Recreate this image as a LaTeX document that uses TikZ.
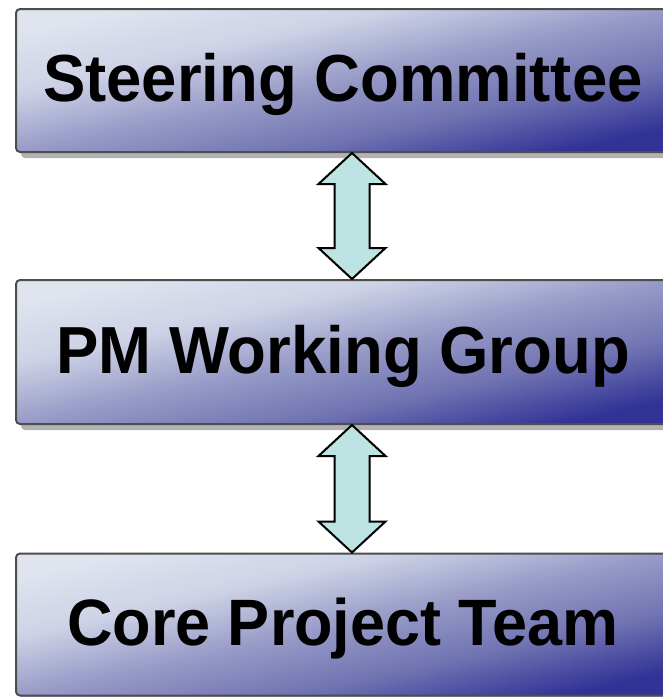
\documentclass[tikz,border=0pt]{standalone}
\usepackage{fontspec}
\usepackage{graphicx}
\setmainfont{Liberation Sans}
\usetikzlibrary{shadows,calc}
\definecolor{sc0}{HTML}{DFE4EF}
\definecolor{sc1}{HTML}{CDD2E6}
\definecolor{sc2}{HTML}{979BC7}
\definecolor{sc3}{HTML}{7073B1}
\definecolor{sc4}{HTML}{303296}
\definecolor{boxline}{HTML}{4D4D4D}
\definecolor{shadowgray}{HTML}{B3B3B3}
\definecolor{arrowfill}{HTML}{BDE3E3}
\pgfdeclarehorizontalshading{boxshade}{100bp}{color(0bp)=(sc0); color(25bp)=(sc0); color(37.5bp)=(sc1); color(50bp)=(sc2); color(62.5bp)=(sc3); color(75bp)=(sc4); color(100bp)=(sc4)}
\newcommand{\orgtext}[4]{{\fontsize{#1}{#1}\selectfont\raisebox{#3}[\height][\depth]{\scalebox{#2}[1]{#4}}}}
\tikzset{
  orgbox/.style={rectangle, rounded corners=4pt, draw=boxline, line width=2pt,
    shading=boxshade, shading angle=-77.6, minimum width=654pt, inner sep=0pt,
    drop shadow={shadow xshift=5pt, shadow yshift=-6pt, fill=shadowgray, opacity=1},
    font=\bfseries},
  blockarrow/.style={draw=black, line width=2pt, fill=arrowfill, line join=miter}
}
\begin{document}
\begin{tikzpicture}[x=1pt,y=-1pt]
\useasboundingbox (0,0) rectangle (663,697);
\clip (0,0) rectangle (663,697);
\node[orgbox, minimum height=143pt] (b1) at (343,80.5) {\orgtext{66.6pt}{0.953}{-4pt}{Steering Committee}};
\node[orgbox, minimum height=144pt] (b2) at (343,352) {\orgtext{66.6pt}{0.953}{-4pt}{PM Working Group}};
\node[orgbox, minimum height=142pt] (b3) at (343,624.5) {\orgtext{65.6pt}{0.96}{-4.5pt}{Core Project Team}};
\coordinate (ax) at (352,0);
\draw[blockarrow] (ax |- b1.south) -- ++(33.5,31) -- ++(-16,0) -- ($(ax |- b2.north)+(17.5,-31)$) -- ++(16,0) -- (ax |- b2.north) -- ++(-33.5,-31) -- ++(16,0) -- ($(ax |- b1.south)+(-17.5,31)$) -- ++(-16,0) -- cycle;
\draw[blockarrow] (ax |- b2.south) -- ++(33.5,31) -- ++(-16,0) -- ($(ax |- b3.north)+(17.5,-31)$) -- ++(16,0) -- (ax |- b3.north) -- ++(-33.5,-31) -- ++(16,0) -- ($(ax |- b2.south)+(-17.5,31)$) -- ++(-16,0) -- cycle;
\end{tikzpicture}
\end{document}
